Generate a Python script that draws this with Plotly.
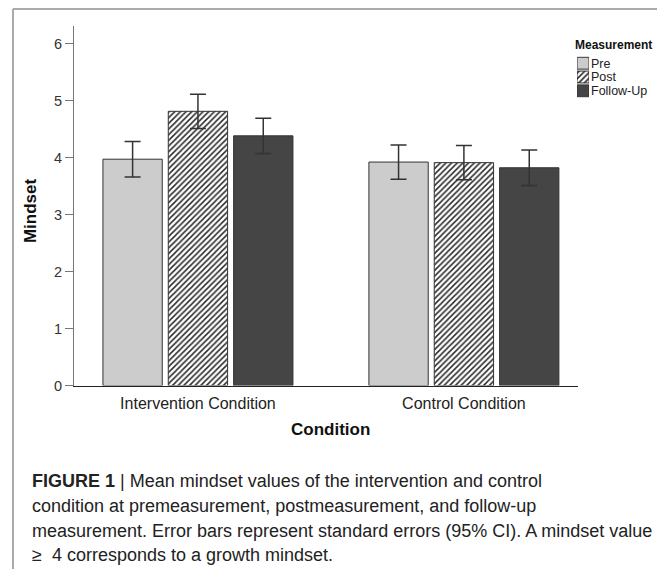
import plotly.graph_objects as go

# ---- data ----
conditions = ["Intervention Condition", "Control Condition"]
measurements = ["Pre", "Post", "Follow-Up"]
pre_mean = [3.97, 3.92]
post_mean = [4.81, 3.91]
follow_mean = [4.38, 3.82]
pre_err = [0.31, 0.30]
post_err = [0.30, 0.30]
follow_err = [0.31, 0.31]
y_ticks = [0, 1, 2, 3, 4, 5, 6]

# page has an 8px body margin; figure is sized to fit the window
OFF = 8
W, H = 665 - OFF, 577 - OFF
FONT = "Liberation Sans, Arial, Helvetica, sans-serif"


def px_x(x):
    return (x - OFF) / W


def px_y(y):
    return 1 - (y - OFF) / H


fills = {
    "Pre": dict(color="#cccccc", pattern=dict(shape="")),
    "Post": dict(color="white", pattern=dict(shape="/", fgcolor="#2a2a2a", bgcolor="white",
                                            size=4, solidity=0.38, fillmode="replace")),
    "Follow-Up": dict(color="#454545", pattern=dict(shape="")),
}

fig = go.Figure()
series = [(measurements[0], pre_mean, pre_err),
          (measurements[1], post_mean, post_err),
          (measurements[2], follow_mean, follow_err)]
for name, vals, errs in series:
    f = fills[name]
    fig.add_trace(go.Bar(
        x=conditions, y=vals, name=name, showlegend=False,
        marker=dict(color=f["color"], pattern=f["pattern"],
                    line=dict(color="#333333", width=1)),
        error_y=dict(type="data", array=errs, visible=True,
                     color="#333333", thickness=1.5, width=8),
        xaxis="x", yaxis="y",
    ))

# legend swatches (small bar chart in its own axes)
for name in measurements:
    f = fills[name]
    pat = dict(f["pattern"])
    if pat.get("shape"):
        pat.update(size=4, solidity=0.4)
    fig.add_trace(go.Bar(
        x=[1], y=[name], orientation="h", showlegend=False,
        width=0.86, offsetgroup="legend",
        marker=dict(color=f["color"], pattern=pat,
                    line=dict(color="#333333", width=1)),
        xaxis="x2", yaxis="y2", hoverinfo="skip",
    ))

fig.update_layout(
    width=W, height=H,
    margin=dict(l=0, r=0, t=0, b=0),
    paper_bgcolor="white", plot_bgcolor="white",
    font=dict(family=FONT, color="#222222"),
    barmode="group", bargap=0.263, bargroupgap=0.092,
    xaxis=dict(domain=[px_x(74), px_x(578)], type="category",
               range=[-0.466, 1.429], showline=True, linecolor="#222222",
               linewidth=1.2, showgrid=False, zeroline=False, ticks="",
               tickfont=dict(size=16, color="#222222"), ticklabelstandoff=3,
               anchor="y", fixedrange=True),
    yaxis=dict(domain=[px_y(391), px_y(26)], range=[0, 6.31],
               tickvals=y_ticks, showline=True, linecolor="#777777", linewidth=1,
               ticks="outside", ticklen=8, tickcolor="#777777", tickwidth=1,
               showgrid=False, zeroline=False,
               tickfont=dict(size=14.5, color="#333333"), anchor="x"),
    xaxis2=dict(domain=[px_x(577), px_x(589)], range=[0, 1], visible=False,
                anchor="y2", fixedrange=True),
    yaxis2=dict(domain=[px_y(99), px_y(57)], type="category",
                categoryarray=measurements, autorange="reversed",
                tickmode="array", tickvals=measurements, ticktext=measurements,
                side="right", anchor="x2", showline=False, showgrid=False,
                zeroline=False, ticks="", ticklabelstandoff=1,
                tickfont=dict(size=12.5, color="#222222"), fixedrange=True),
)

annotations = [
    dict(text="<b>Measurement</b>", x=px_x(613), y=px_y(46), font=dict(size=12, color="#111111")),
    dict(text="<b>Condition</b>", x=px_x(330), y=px_y(436), font=dict(size=17, color="#111111")),
    dict(text="<b>Mindset</b>", x=px_x(30), y=px_y(214), textangle=-90,
         font=dict(size=17, color="#111111")),
]
caption_lines = [
    "<b>FIGURE 1</b> | Mean mindset values of the intervention and control",
    "condition at premeasurement, postmeasurement, and follow-up",
    "measurement. Error bars represent standard errors (95% CI). A mindset value",
    "\u2265  4 corresponds to a growth mindset.",
]
caption_y = [488, 513, 538, 563]
for line, yy in zip(caption_lines, caption_y):
    annotations.append(dict(text=line, x=px_x(30), y=px_y(yy), xanchor="left",
                            font=dict(size=18, color="#222222")))
for a in annotations:
    a.setdefault("xanchor", "center")
    a.update(xref="paper", yref="paper", yanchor="middle", showarrow=False)
fig.update_layout(annotations=annotations)

border = dict(color="#aaaaaa", width=2)
fig.update_layout(shapes=[
    dict(type="line", xref="paper", yref="paper", x0=px_x(13), x1=px_x(661),
         y0=px_y(9), y1=px_y(9), line=border),
    dict(type="line", xref="paper", yref="paper", x0=px_x(13), x1=px_x(13),
         y0=px_y(9), y1=px_y(577), line=border),
    dict(type="line", xref="paper", yref="paper", x0=px_x(661), x1=px_x(661),
         y0=px_y(9), y1=px_y(470), line=border),
])

fig.write_html("out.html")
